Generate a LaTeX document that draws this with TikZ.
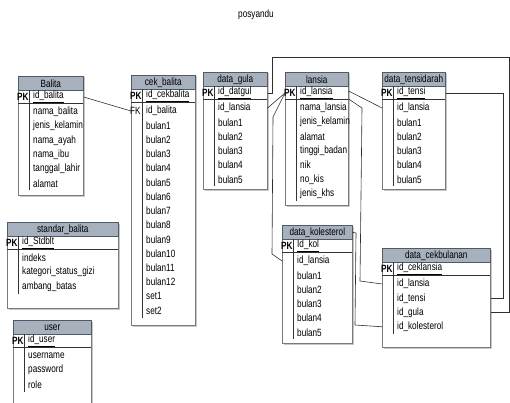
\documentclass[tikz,border=0pt]{standalone}
\usepackage{fontspec}
\setmainfont{Liberation Sans}[FakeStretch=0.78]
\definecolor{headfill}{HTML}{A7B1BD}
\definecolor{headline}{HTML}{4F5A66}
\definecolor{boxline}{HTML}{7A7A7A}
\definecolor{relline}{HTML}{2E2E2E}
\tikzset{
  ebox/.style={draw=boxline, fill=white, line width=0.6pt, inner sep=0pt},
  ehead/.style={draw=headline, fill=headfill, line width=0.6pt, minimum height=14pt,
    inner sep=0pt, font=\fontsize{10.5}{12}\selectfont, text=black},
  field/.style={inner sep=0pt, anchor=west, font=\fontsize{10.5}{12}\selectfont, text=black},
  keytag/.style={inner sep=0pt, anchor=west, font=\fontsize{10.5}{12}\selectfont\bfseries, text=black},
  boxshadow/.style={fill=black!22},
  divider/.style={draw=black!80, line width=0.7pt},
  rel/.style={draw=relline, line width=0.6pt},
}
% #1 name, #2 x, #3 y (top), #4 width, #5 height, #6 table name, #7 key field, #8 other fields
\newcommand{\entity}[8]{%
  \fill[boxshadow] ({#2+1.5},{#3+1.5}) rectangle ({#2+#4+1.5},{#3+#5+1.5});
  \node[ebox, minimum width=#4pt, minimum height=#5pt, anchor=north west] (#1) at (#2,#3) {};
  \node[ehead, minimum width=#4pt, anchor=north west] (#1H) at (#2,#3) {#6};
  \node[keytag] (#1PKtag) at ({#2-1},{#3+21}) {PK};
  \node[field] (#1PK) at ({#2+15},{#3+21}) {\underline{#7}};
  \draw[divider] ({#2},{#3+27}) -- ({#2+#4},{#3+27});
  \foreach \fld [count=\k] in {#8} {
    \node[field] (#1R\k) at ({#2+15},{#3+36+(\k-1)*14.25}) {\fld};
    \xdef\lastrow{\k}}
  \draw[divider] ({#2+11},{#3+14}) -- ({#2+11},{#3+43+(\lastrow-1)*14.25});
}
\begin{document}
\begin{tikzpicture}[x=1pt,y=-1pt]
\useasboundingbox (0,0) rectangle (510,403);

\node[font=\fontsize{10.5}{12}\selectfont, text=black] (diagtitle) at (256,15) {posyandu};

\entity{balita}{18}{76}{65}{119}{Balita}{id\_balita}{nama\_balita,jenis\_kelamin,nama\_ayah,nama\_ibu,tanggal\_lahir,alamat}
\entity{cekbalita}{131}{75}{64}{250}{cek\_balita}{id\_cekbalita}{id\_balita,bulan1,bulan2,bulan3,bulan4,bulan5,bulan6,bulan7,bulan8,bulan9,bulan10,bulan11,bulan12,set1,set2}
\node[field] (cekbalitaFK) at (130,111) {FK};
\entity{datagula}{203}{72}{64}{117}{data\_gula}{id\_datgul}{id\_lansia,bulan1,bulan2,bulan3,bulan4,bulan5}
\entity{lansia}{285}{72}{63}{133}{lansia}{id\_lansia}{nama\_lansia,jenis\_kelamin,alamat,tinggi\_badan,nik,no\_kis,jenis\_khs}
\entity{tensi}{382}{72}{63}{117}{data\_tensidarah}{id\_tensi}{id\_lansia,bulan1,bulan2,bulan3,bulan4,bulan5}
\entity{standar}{7}{222}{111}{86}{standar\_balita}{id\_Stdblt}{indeks,kategori\_status\_gizi,ambang\_batas}
\entity{user}{13}{320}{78}{95}{user}{id\_user}{username,password,role}
\entity{kolesterol}{282}{225}{70}{118}{data\_kolesterol}{Id\_kol}{id\_lansia,bulan1,bulan2,bulan3,bulan4,bulan5}
\entity{cekbulan}{382}{248}{108}{99}{data\_cekbulanan}{id\_ceklansia}{id\_lansia,id\_tensi,id\_gula,id\_kolesterol}

% bend points of the relationship lines
\coordinate (gulaup) at (272,57);
\coordinate (railR) at (509,57);
\coordinate (kolA) at (273,117);
\coordinate (kolB) at (272,254);
\coordinate (lanA) at (362,108);
\coordinate (lanB) at (360,281);
\coordinate (tensrail) at (503,200);
\coordinate (kolC) at (356,233);
\coordinate (kolD) at (355,325);

% relationships
\draw[rel] (balita.east |- balitaPK) -- (cekbalita.west |- cekbalitaR1);
\draw[rel] (datagula.east |- datagulaPK) -| (gulaup) -- (railR) |- (cekbulan.east |- cekbulanR3);
\draw[rel] (lansia.west |- lansiaPK) -- (datagula.east |- datagulaR1);
\draw[rel] (lansia.west |- lansiaPK) -- (kolA) -- (kolB) -- (kolesterol.west |- kolesterolR1);
\draw[rel] ([yshift=2pt]lansia.east |- lansiaPK) -- (tensi.west |- tensiR1);
\draw[rel] ([yshift=-6pt]lansia.east |- lansiaPK) -- (lanA) -- (lanB) -- (cekbulan.west |- cekbulanR1);
\draw[rel] (tensi.east |- tensiPK) -| (tensrail) |- (cekbulan.east |- cekbulanR2);
\draw[rel] (kolesterol.east |- kolesterolH) -- (kolC) -- (kolD) -- (cekbulan.west |- cekbulanR4);
\end{tikzpicture}
\end{document}
